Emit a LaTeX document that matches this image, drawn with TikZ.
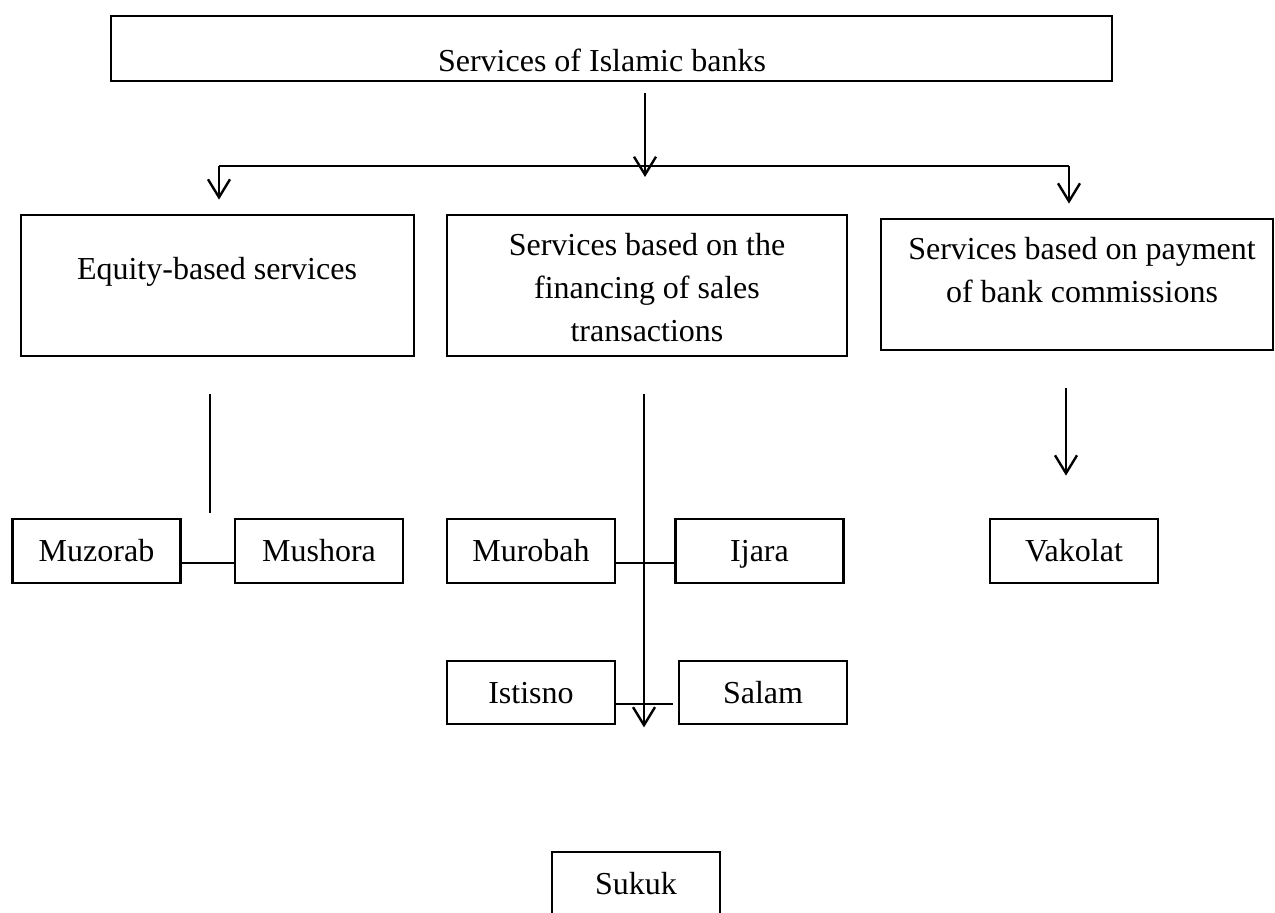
\documentclass[tikz,border=0pt]{standalone}
\usepackage{fontspec}
\setmainfont{Liberation Serif}
\usetikzlibrary{arrows.meta}

\begin{document}
\begin{tikzpicture}[x=0.5pt,y=-0.5pt,
  font=\fontsize{16}{21.5}\selectfont,
  box/.style={draw,line width=1.4pt,inner sep=0pt},
  big box/.style={box,minimum height=70.5pt},
  small box/.style={box,minimum width=84pt,minimum height=32pt,text height=10.6pt,text depth=0pt},
  txt/.style={inner sep=0pt,align=center},
  link/.style={line width=1.2pt},
  arrow/.style={line width=1.2pt,-{Straight Barb[length=9pt,width=11pt,line width=1.2pt]}}]

  \useasboundingbox (0,0) rectangle (1275,912);

  % main boxes
  \node[box,minimum width=500.5pt,minimum height=32.5pt] (banks) at (611.5,48.5) {};
  \node[big box,minimum width=196.5pt] (equity) at (217.5,285.5) {};
  \node[big box,minimum width=200pt] (sales) at (647,285.5) {};
  \node[box,minimum width=196pt,minimum height=65.5pt] (commission) at (1077,284.5) {};

  \node[txt] (banks text) at (602,60) {Services of Islamic banks};
  \node[txt] (equity text) at (217,272) {Equity-based services};
  \node[txt] (sales text) at (647,288) {Services based on the\\financing of sales\\transactions};
  \node[txt] (commission text) at (1082,270) {Services based on payment\\of bank commissions};

  % services
  \node[small box] (muzorab) at (96.5,551) {Muzorab};
  \node[small box] (mushora) at (319,551) {Mushora};
  \node[small box] (murobah) at (531,551) {Murobah};
  \node[small box] (ijara) at (759.5,551) {Ijara};
  \node[small box,minimum height=31.5pt] (istisno) at (531,692.5) {Istisno};
  \node[small box,minimum height=31.5pt] (salam) at (763,692.5) {Salam};
  \node[small box] (vakolat) at (1074,551) {Vakolat};
  \node[small box] (sukuk) at (636,884) {Sukuk};

  % fork under the top box
  \coordinate (mid) at (645,166);
  \coordinate (left) at (219,166);
  \coordinate (right) at (1069,166);
  \draw[link] (left) -- (right);
  \draw[arrow,shorten <=5.5pt,shorten >=-5.5pt] (banks.south -| mid) -- (mid);
  \draw[arrow,shorten >=7pt] (left) -- (left |- equity.north);
  \draw[arrow,shorten >=7pt] (right) -- (right |- commission.north);

  % lower links
  \draw[link,shorten <=18.5pt,shorten >=2.5pt]
    ([xshift=-3.75pt]equity.south) -- ([xshift=-3.75pt]equity.south |- muzorab.north);
  \draw[arrow,shorten <=18.5pt,shorten >=-1pt]
    ([xshift=-1.5pt]sales.south) -- ([xshift=-1.5pt]sales.south |- istisno.south);
  \draw[arrow,shorten <=18.5pt,shorten >=21pt]
    ([xshift=-5.5pt]commission.south) -- ([xshift=-5.5pt]commission.south |- vakolat.north);

  \draw[link] ([yshift=-6pt]muzorab.east) -- ([yshift=-6pt]mushora.west);
  \draw[link] ([yshift=-6pt]murobah.east) -- ([yshift=-6pt]ijara.west);
  \draw[link,shorten >=2.5pt] ([yshift=-5.75pt]istisno.east) -- ([yshift=-5.75pt]salam.west);
\end{tikzpicture}
\end{document}
